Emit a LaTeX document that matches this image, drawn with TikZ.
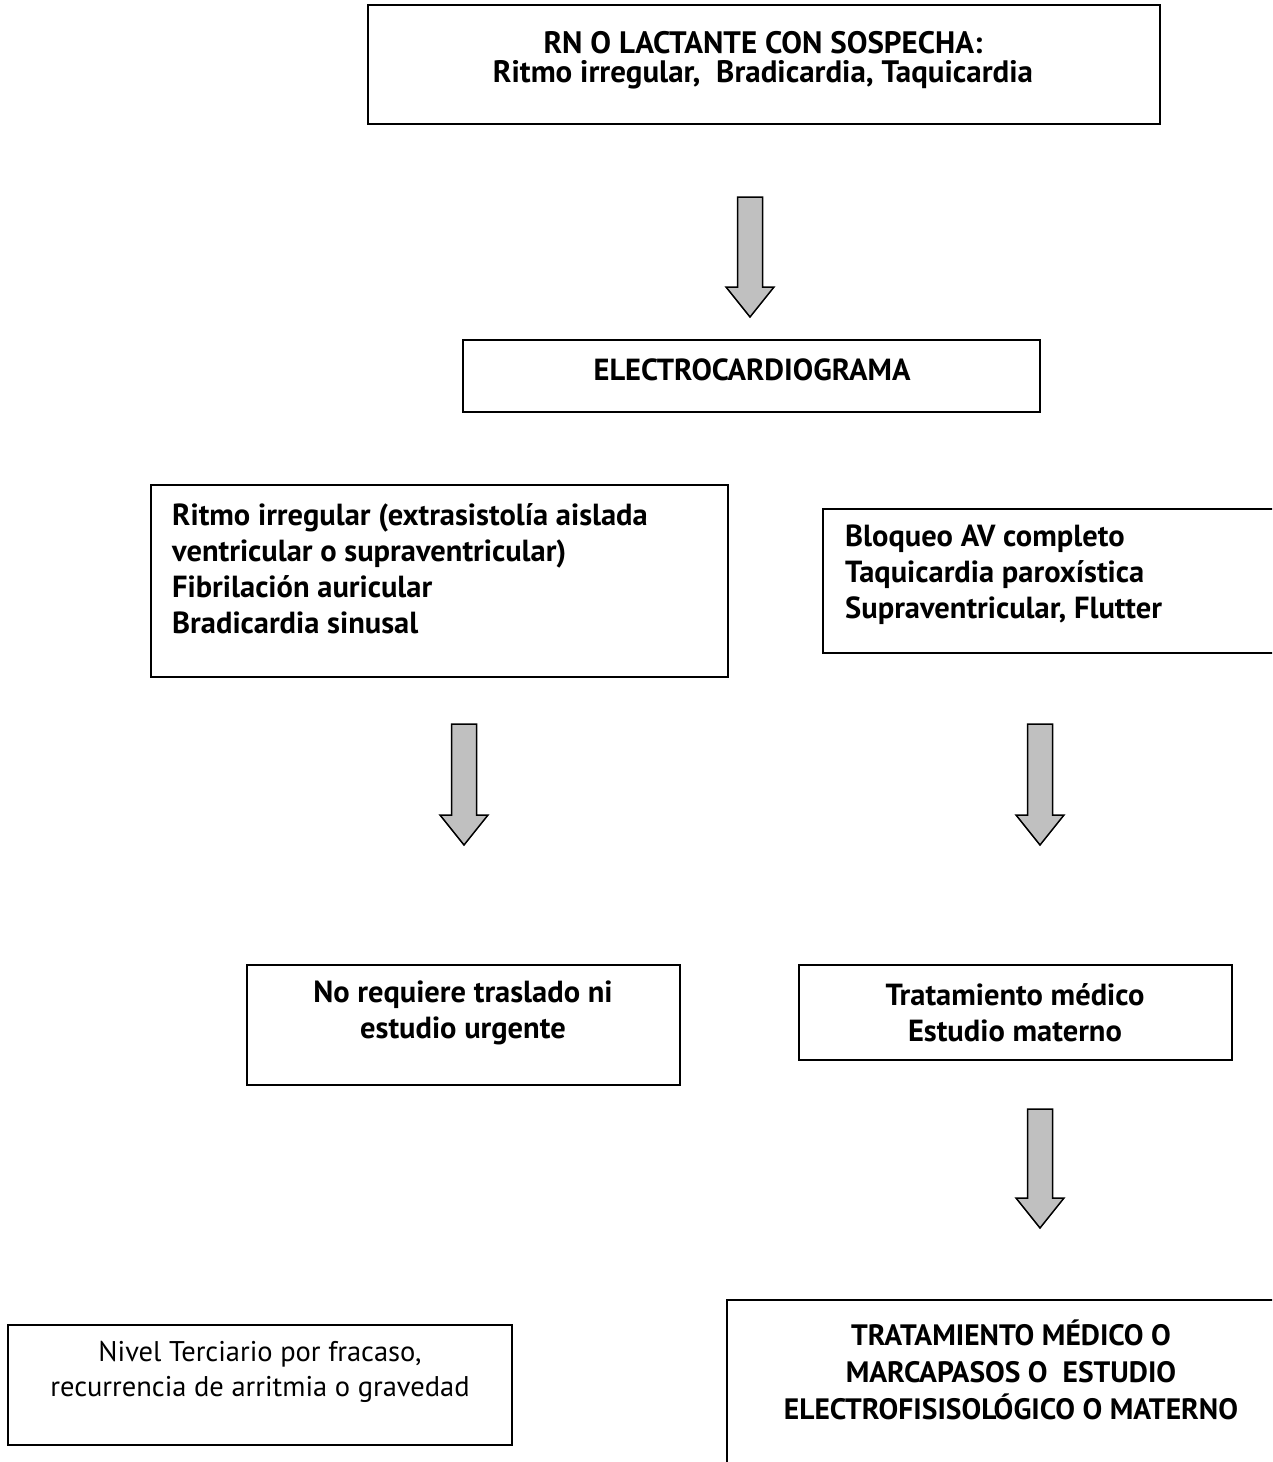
\documentclass[tikz,border=0pt]{standalone}
\usepackage{fontspec}
\setmainfont{PT Sans}
\usetikzlibrary{fit}
\definecolor{arrowgray}{HTML}{C0C0C0}
% block arrow pointing down: x centre, top of shaft, tip
\newcommand{\blockdown}[3]{%
  \draw[blockarrow] (#1-12.5,#2) -- (#1+12.5,#2) -- (#1+12.5,#3-30)
    -- (#1+24,#3-30) -- (#1,#3) -- (#1-24,#3-30) -- (#1-12.5,#3-30) -- cycle;}
\begin{document}
\begin{tikzpicture}[x=1pt,y=-1pt,
  box/.style={draw,line width=2pt,inner sep=0pt},
  boldtext/.style={inner sep=0pt,font=\bfseries\fontsize{30.5}{36}\selectfont},
  plaintext/.style={inner sep=0pt,font=\fontsize{28.5}{35}\selectfont,align=center},
  blockarrow/.style={draw,line width=1.5pt,fill=arrowgray,line join=miter}]
\useasboundingbox (0,0) rectangle (1272,1462);
\clip (0,0) rectangle (1272,1462);

% boxes
\node[box,fit={(368,5) (1160,124)}] (start) {};
\node[box,fit={(463,340) (1040,412)}] (ecg) {};
\node[box,fit={(151,485) (728,677)}] (benign) {};
\node[box,fit={(823,509) (1290,653)}] (severe) {};
\node[box,fit={(247,965) (680,1085)}] (noref) {};
\node[box,fit={(799,965) (1232,1060)}] (treat) {};
\node[box,fit={(8,1325) (512,1445)}] (tertiary) {};
\node[box,fit={(727,1300) (1290,1480)}] (final) {};

% texts
\node[boldtext,align=center,font=\bfseries\fontsize{31}{29}\selectfont] (starttext) at (763,60)
  {RN O LACTANTE CON SOSPECHA:\\Ritmo irregular,\ \ Bradicardia, Taquicardia};
\node[boldtext] (ecgtext) at (752,370) {ELECTROCARDIOGRAMA};
\node[boldtext,align=left,anchor=west] (benigntext) at (172,569)
  {Ritmo irregular (extrasistolía aislada\\ventricular o supraventricular)\\Fibrilación auricular\\Bradicardia sinusal};
\node[boldtext,align=left,anchor=west] (severetext) at (845,575)
  {Bloqueo AV completo\\Taquicardia paroxística\\Supraventricular, Flutter};
\node[boldtext,align=center] (noreftext) at (463,1013)
  {No requiere traslado ni\\estudio urgente};
\node[boldtext,align=center] (treattext) at (1015,1013)
  {Tratamiento médico\\Estudio materno};
\node[plaintext] (tertiarytext) at (260,1372)
  {Nivel Terciario por fracaso,\\recurrencia de arritmia o gravedad};
\node[boldtext,align=center,font=\bfseries\fontsize{29.5}{37}\selectfont] (finaltext) at (1011,1370)
  {TRATAMIENTO MÉDICO O\\MARCAPASOS O\ \ ESTUDIO\\ELECTROFISISOLÓGICO O MATERNO};

% block arrows
\blockdown{750}{197}{317}
\blockdown{464}{724}{845}
\blockdown{1040}{724}{845}
\blockdown{1040}{1109}{1228}
\end{tikzpicture}
\end{document}
